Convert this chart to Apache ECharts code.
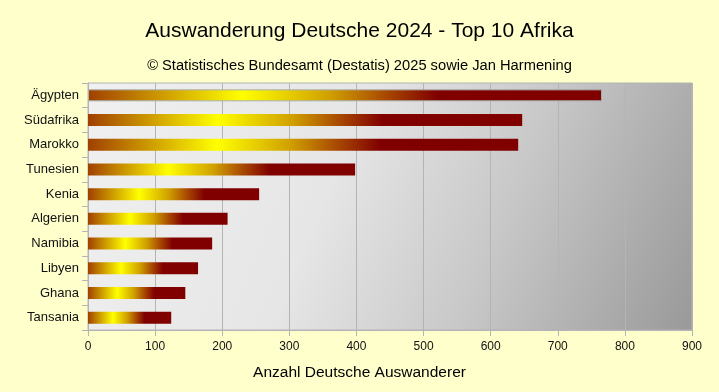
<!DOCTYPE html>
<html>
<head>
<meta charset="utf-8">
<script src="https://cdn.jsdelivr.net/npm/echarts@6/dist/echarts.min.js"></script>
<style>
html,body{margin:0;padding:0;background:#ffffcc;}
#chart{width:719px;height:392px;}
</style>
</head>
<body>
<div id="chart"></div>
<script>
const categories = ['Ägypten','Südafrika','Marokko','Tunesien','Kenia','Algerien','Namibia','Libyen','Ghana','Tansania'];
const values = [766, 647, 641, 398, 255, 208, 185, 164, 145, 124];
const xTicks = [0, 100, 200, 300, 400, 500, 600, 700, 800, 900];
const titleText = 'Auswanderung Deutsche 2024 - Top 10 Afrika';
const subtitleText = '© Statistisches Bundesamt (Destatis) 2025 sowie Jan Harmening';
const xAxisName = 'Anzahl Deutsche Auswanderer';

const font = '"Liberation Sans", Arial, sans-serif';
const barGradient = {
  type: 'linear', x: 0, y: 0, x2: 1, y2: 0,
  colorStops: [
    {offset: 0, color: '#a04000'},
    {offset: 0.3, color: '#ffff00'},
    {offset: 0.47, color: '#d0a000'},
    {offset: 0.58, color: '#a84800'},
    {offset: 0.68, color: '#800000'},
    {offset: 1, color: '#800000'}
  ]
};
const chart = echarts.init(document.getElementById('chart'), null, {renderer: 'canvas'});
chart.setOption({
  backgroundColor: '#ffffcc',
  animation: false,
  title: [
    {text: titleText, left: 'center', top: 15,
     textStyle: {fontFamily: font, fontSize: 21, fontWeight: 'normal', color: '#000', lineHeight: 22}},
    {text: subtitleText, left: 'center', top: 52,
     textStyle: {fontFamily: font, fontSize: 14.7, fontWeight: 'normal', color: '#000', lineHeight: 18}},
    {text: xAxisName, left: 'center', top: 359,
     textStyle: {fontFamily: font, fontSize: 15.5, fontWeight: 'normal', color: '#000', lineHeight: 18}}
  ],
  grid: {
    left: 88, right: 27, top: 83, bottom: 62,
    show: true, borderColor: '#b4b4b4', borderWidth: 1,
    backgroundColor: {
      type: 'linear', x: 0, y: 0, x2: 1, y2: 1,
      colorStops: [
        {offset: 0, color: '#f0f0f0'},
        {offset: 0.4, color: '#e6e6e6'},
        {offset: 0.665, color: '#c8c8c8'},
        {offset: 1, color: '#999999'}
      ]
    }
  },
  xAxis: {
    type: 'value', min: xTicks[0], max: xTicks[xTicks.length - 1], interval: xTicks[1] - xTicks[0],
    axisLine: {show: true, lineStyle: {color: '#b4b4b4'}},
    axisTick: {show: true, length: 6, lineStyle: {color: '#b4b4b4'}},
    axisLabel: {fontFamily: font, fontSize: 12, color: '#111', margin: 11},
    splitLine: {show: true, lineStyle: {color: '#b4b4b4', width: 1}}
  },
  yAxis: {
    type: 'category', data: categories, inverse: true,
    axisLine: {show: true, lineStyle: {color: '#b4b4b4'}},
    axisTick: {show: true, length: 6, alignWithLabel: false, lineStyle: {color: '#b4b4b4'}},
    axisLabel: {fontFamily: font, fontSize: 13, color: '#111', margin: 9},
    splitLine: {show: false}
  },
  series: [{
    type: 'bar',
    data: values.map((v, i) => i === 0
      ? {value: v, itemStyle: {borderColor: '#a8b0b0', borderWidth: 1}}
      : v),
    barWidth: 12,
    itemStyle: {color: barGradient}
  }]
});
</script>
</body>
</html>
